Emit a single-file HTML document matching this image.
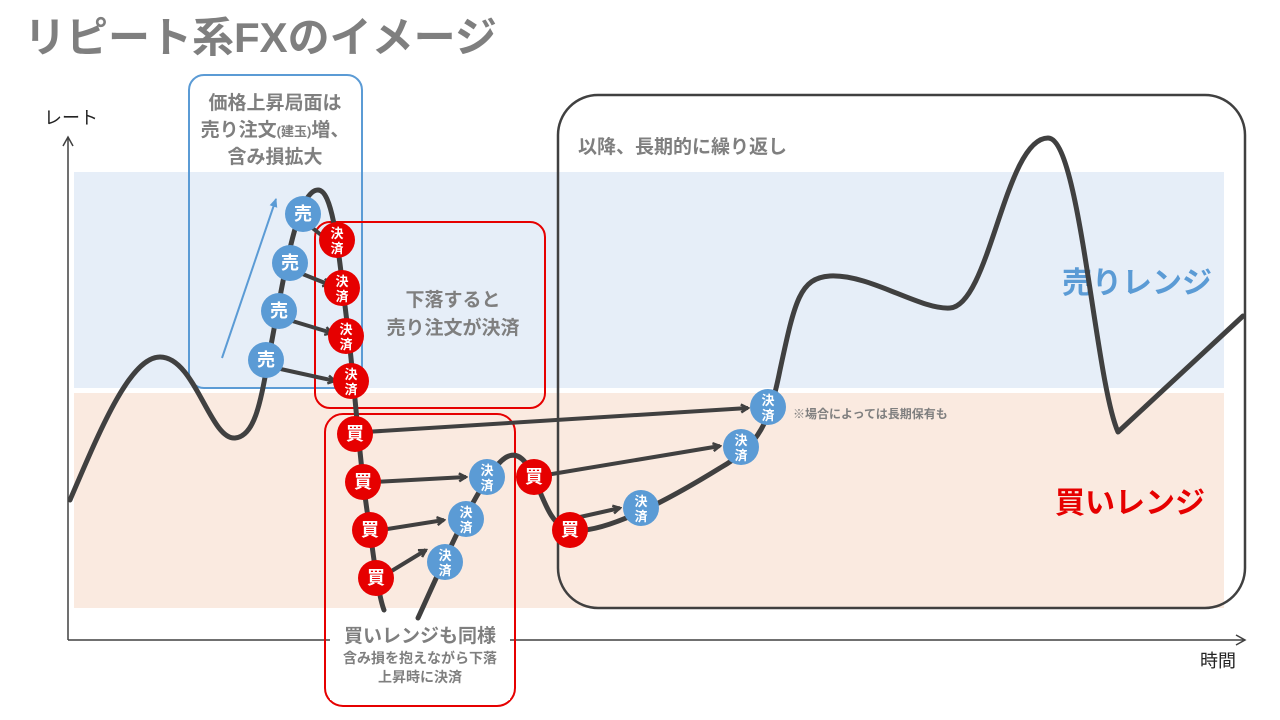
<!DOCTYPE html>
<html><head><meta charset="utf-8"><style>
html,body{margin:0;padding:0;background:#fff;width:1280px;height:720px;overflow:hidden}
svg{display:block}
text{font-family:"Liberation Sans","Noto Sans CJK JP",sans-serif;font-weight:bold}
</style></head><body>
<svg width="1280" height="720" viewBox="0 0 1280 720">
<defs>
<marker id="ah" markerWidth="10" markerHeight="10" refX="8" refY="5" orient="auto" markerUnits="userSpaceOnUse">
<path d="M1,1 L8,5 L1,9" fill="none" stroke="#404040" stroke-width="2.5"/></marker>
<marker id="ax" markerWidth="12" markerHeight="12" refX="10" refY="6" orient="auto" markerUnits="userSpaceOnUse">
<path d="M1,1 L10,6 L1,11" fill="none" stroke="#404040" stroke-width="1.5"/></marker>
<marker id="ab" markerWidth="10" markerHeight="10" refX="8" refY="5" orient="auto" markerUnits="userSpaceOnUse">
<path d="M0,1 L9,5 L0,9 z" fill="#5b9bd5"/></marker>
</defs>
<text x="24" y="52" font-size="42" fill="#7f7f7f">リピート系FXのイメージ</text>
<rect x="74" y="172" width="1150" height="216" fill="#e6eef8"/>
<rect x="74" y="393" width="1150" height="215" fill="#faeae0"/>
<line x1="68" y1="640" x2="68" y2="137" stroke="#404040" stroke-width="1.5" marker-end="url(#ax)"/>
<line x1="68" y1="640" x2="1245" y2="640" stroke="#404040" stroke-width="1.5" marker-end="url(#ax)"/>
<text x="44" y="124" font-size="18" fill="#222" style="font-weight:normal">レート</text>
<text x="1200" y="667" font-size="18" fill="#222" style="font-weight:normal">時間</text>

<rect x="189" y="75" width="173" height="313" rx="15" fill="none" stroke="#5b9bd5" stroke-width="2"/>
<text font-size="19" fill="#7f7f7f" text-anchor="middle"><tspan x="275" y="109">価格上昇局面は</tspan><tspan x="275" y="136">売り注文<tspan font-size="13">(建玉)</tspan>増、</tspan><tspan x="275" y="163">含み損拡大</tspan></text>
<rect x="558" y="95" width="687" height="513" rx="40" fill="none" stroke="#404040" stroke-width="2.5"/>
<text x="578" y="153" font-size="19" fill="#7f7f7f">以降、長期的に繰り返し</text>
<text x="1062" y="293" font-size="30" fill="#5b9bd5">売りレンジ</text>
<text x="1055" y="513" font-size="30" fill="#e60000">買いレンジ</text>
<text x="793" y="418" font-size="12" fill="#7f7f7f">※場合によっては長期保有も</text>

<rect x="315" y="222" width="230" height="186" rx="15" fill="none" stroke="#e60000" stroke-width="2"/>
<text font-size="19" fill="#7f7f7f" text-anchor="middle"><tspan x="453" y="306">下落すると</tspan><tspan x="453" y="334">売り注文が決済</tspan></text>
<rect x="325" y="414" width="190" height="292" rx="18" fill="none" stroke="#e60000" stroke-width="2"/>
<rect x="330" y="612" width="180" height="88" fill="#fff"/>
<text font-size="19" fill="#7f7f7f" text-anchor="middle" x="420" y="642">買いレンジも同様</text>
<text font-size="14" fill="#7f7f7f" text-anchor="middle"><tspan x="420" y="663">含み損を抱えながら下落</tspan><tspan x="420" y="682">上昇時に決済</tspan></text>

<g fill="none" stroke="#404040" stroke-width="5" stroke-linecap="round" stroke-linejoin="round">
<path d="M70,500 C100,430 130,357 160,357 C195,357 210,440 235,438 C258,436 262,390 272,340 C285,270 298,190 318,190 C335,190 340,270 348,330 C356,400 360,470 370,530 C375,570 380,600 384,610"/>
<path d="M418,618 C440,570 470,500 495,468 C505,455 515,450 525,462 C540,480 545,525 570,530 C600,535 660,505 720,468 C760,445 770,420 780,370 C795,300 800,278 830,276 C870,274 920,310 950,308 C990,305 1005,138 1048,138 C1080,138 1095,380 1118,432 L1243,316"/>
</g>
<line x1="222" y1="358" x2="276" y2="199" stroke="#5b9bd5" stroke-width="2" marker-end="url(#ab)"/>
<g stroke="#404040" stroke-width="4" marker-end="url(#ah)">
<line x1="310" y1="226" x2="331" y2="243"/>
<line x1="300" y1="273" x2="330" y2="285"/>
<line x1="289" y1="320" x2="332" y2="333"/>
<line x1="276" y1="368" x2="335" y2="381"/>
<line x1="365" y1="432" x2="748" y2="408"/>
<line x1="373" y1="482" x2="466" y2="477"/>
<line x1="381" y1="530" x2="444" y2="520"/>
<line x1="385" y1="575" x2="426" y2="550"/>
<line x1="546" y1="475" x2="720" y2="446"/>
<line x1="580" y1="517" x2="620" y2="508"/>
</g>
<g font-size="18" fill="#fff" text-anchor="middle">
<g fill="#5b9bd5"><circle cx="303" cy="214" r="18"/><circle cx="290" cy="263" r="18"/><circle cx="279" cy="311" r="18"/><circle cx="266" cy="360" r="18"/>
<circle cx="487" cy="477" r="18"/><circle cx="466" cy="519" r="18"/><circle cx="445" cy="562" r="18"/><circle cx="641" cy="508" r="18"/><circle cx="741" cy="447" r="18"/><circle cx="768" cy="407" r="18"/></g>
<g fill="#e60000"><circle cx="337" cy="240" r="18"/><circle cx="342" cy="288" r="18"/><circle cx="346" cy="336" r="18"/><circle cx="351" cy="381" r="18"/>
<circle cx="355" cy="434" r="18"/><circle cx="363" cy="482" r="18"/><circle cx="370" cy="530" r="18"/><circle cx="376" cy="578" r="18"/><circle cx="534" cy="477" r="18"/><circle cx="570" cy="530" r="18"/></g>
<text x="303" y="220">売</text><text x="290" y="269">売</text><text x="279" y="317">売</text><text x="266" y="366">売</text>
<text x="355" y="440">買</text><text x="363" y="488">買</text><text x="370" y="536">買</text><text x="376" y="584">買</text><text x="534" y="483">買</text><text x="570" y="536">買</text>
<g font-size="13">
<text x="337" y="238">決</text><text x="337" y="253">済</text>
<text x="342" y="286">決</text><text x="342" y="301">済</text>
<text x="346" y="334">決</text><text x="346" y="349">済</text>
<text x="351" y="379">決</text><text x="351" y="394">済</text>
<text x="487" y="475">決</text><text x="487" y="490">済</text>
<text x="466" y="517">決</text><text x="466" y="532">済</text>
<text x="445" y="560">決</text><text x="445" y="575">済</text>
<text x="641" y="506">決</text><text x="641" y="521">済</text>
<text x="741" y="445">決</text><text x="741" y="460">済</text>
<text x="768" y="405">決</text><text x="768" y="420">済</text>
</g></g>
</svg>
</body></html>
